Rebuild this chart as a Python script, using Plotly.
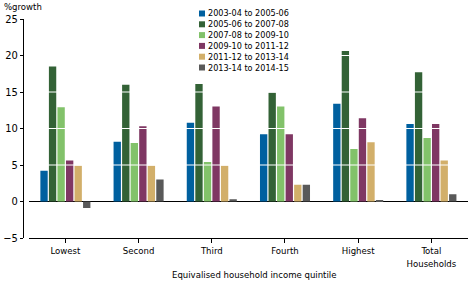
import plotly.graph_objects as go

# Income quintiles
categories = ['Lowest', 'Second', 'Third', 'Fourth', 'Highest', 'Total<br>Households']

# Growth periods (legend)
periods = [
    '2003-04 to 2005-06',
    '2005-06 to 2007-08',
    '2007-08 to 2009-10',
    '2009-10 to 2011-12',
    '2011-12 to 2013-14',
    '2013-14 to 2014-15',
]

# %growth values per period
growth_0304_0506 = [4.2, 8.2, 10.8, 9.2, 13.4, 10.6]
growth_0506_0708 = [18.5, 16.0, 16.1, 14.9, 20.6, 17.7]
growth_0708_0910 = [12.9, 8.0, 5.4, 13.0, 7.2, 8.7]
growth_0910_1112 = [5.6, 10.3, 13.0, 9.2, 11.4, 10.6]
growth_1112_1314 = [4.9, 4.9, 4.9, 2.3, 8.1, 5.6]
growth_1314_1415 = [-0.9, 3.0, 0.3, 2.3, 0.1, 1.0]

series = [growth_0304_0506, growth_0506_0708, growth_0708_0910,
          growth_0910_1112, growth_1112_1314, growth_1314_1415]

y_ticks = [-5, 0, 5, 10, 15, 20, 25]
y_ticktext = ['\u22125', '0', '5', '10', '15', '20', '25']

COLORS = ['#00609F', '#336236', '#82C26A', '#7F3763', '#D2AF6A', '#595959']
FONT = 'DejaVu Sans Condensed, Liberation Sans Narrow, sans-serif'

# plot area in pixels (for placing the hand-made legend)
L, R, T, B = 23, 468, 19, 238
W, H = R - L, B - T


def px_x(p):
    return (p - L) / W


def px_y(p):
    return (B - p) / H


fig = go.Figure()
for name, vals, col in zip(periods, series, COLORS):
    fig.add_trace(go.Bar(
        x=categories,
        y=vals,
        name=name,
        marker=dict(color=col, line=dict(width=0)),
    ))

# white gridlines drawn over the bars
shapes = [
    dict(type='line', xref='x domain', yref='y', x0=0, x1=1, y0=t, y1=t,
         line=dict(color='white', width=1), layer='above')
    for t in y_ticks if t > 0
]

annotations = [
    dict(text='%growth', xref='paper', yref='paper', x=px_x(2), y=px_y(14),
         xanchor='left', yanchor='bottom', showarrow=False, font=dict(size=9.5)),
    dict(text='Equivalised household income quintile', xref='paper', yref='paper',
         x=px_x(254), y=px_y(274), xanchor='center', yanchor='middle',
         showarrow=False, font=dict(size=9.5)),
]

# compact legend: coloured squares + labels
for i, (name, col) in enumerate(zip(periods, COLORS)):
    cy = 13.5 + i * 10.8
    shapes.append(dict(type='rect', xref='paper', yref='paper',
                       x0=px_x(199), x1=px_x(205), y0=px_y(cy + 3), y1=px_y(cy - 3),
                       fillcolor=col, line=dict(width=0)))
    annotations.append(dict(text=name, xref='paper', yref='paper',
                            x=px_x(206), y=px_y(cy), xanchor='left', yanchor='middle',
                            showarrow=False, font=dict(size=9)))

fig.update_layout(
    barmode='group',
    bargap=0.3,
    bargroupgap=0.14,
    width=472,
    height=283,
    margin=dict(l=L, r=472 - R, t=T, b=283 - B, autoexpand=False),
    paper_bgcolor='white',
    plot_bgcolor='white',
    font=dict(family=FONT, size=9.5, color='black'),
    shapes=shapes,
    annotations=annotations,
    showlegend=False,
    xaxis=dict(
        domain=[0.013, 1],
        automargin=False,
        showline=True,
        linecolor='black',
        linewidth=1,
        ticks='outside',
        ticklen=4,
        tickcolor='black',
        showgrid=False,
        tickfont=dict(size=9.5),
    ),
    yaxis=dict(
        range=[-5, 25],
        tickvals=y_ticks,
        ticktext=y_ticktext,
        automargin=False,
        anchor='free',
        position=0,
        showline=True,
        linecolor='black',
        linewidth=1,
        ticks='outside',
        ticklen=3,
        tickcolor='black',
        showgrid=False,
        zeroline=True,
        zerolinecolor='black',
        zerolinewidth=1,
        tickfont=dict(size=11),
    ),
)

fig.write_html("out.html", config={'displayModeBar': False},
               post_script="document.body.style.margin='0';")
